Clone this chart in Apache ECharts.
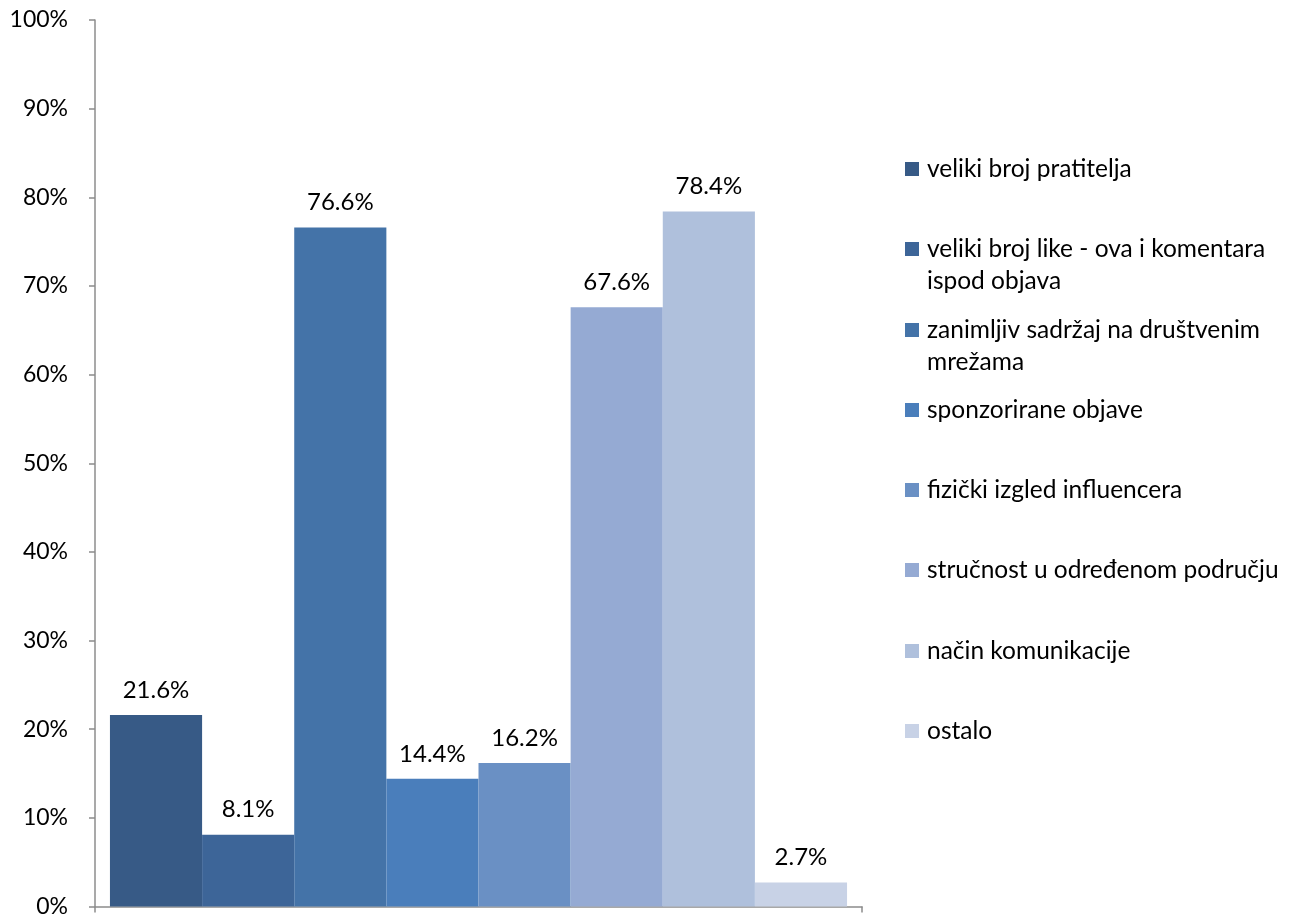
<!DOCTYPE html>
<html>
<head>
<meta charset="utf-8">
<script src="https://cdn.jsdelivr.net/npm/echarts@6/dist/echarts.min.js"></script>
<style>html,body{margin:0;padding:0;background:#fff;}#c{width:1302px;height:918px;}</style>
</head>
<body>
<div id="c"></div>
<script>
const categories = [''];
const seriesNames = [
  'veliki broj pratitelja',
  'veliki broj like - ova i komentara ispod objava',
  'zanimljiv sadržaj na društvenim mrežama',
  'sponzorirane objave',
  'fizički izgled influencera',
  'stručnost u određenom području',
  'način komunikacije',
  'ostalo'
];
const legendLines = [
  ['veliki broj pratitelja'],
  ['veliki broj like - ova i komentara', 'ispod objava'],
  ['zanimljiv sadržaj na društvenim', 'mrežama'],
  ['sponzorirane objave'],
  ['fizički izgled influencera'],
  ['stručnost u određenom području'],
  ['način komunikacije'],
  ['ostalo']
];
const values = [21.6, 8.1, 76.6, 14.4, 16.2, 67.6, 78.4, 2.7];
const colors = ['#375A86', '#3D6598', '#4473A8', '#4A7EBB', '#6A90C4', '#95AAD3', '#AFC0DC', '#C8D2E6'];
const yTicks = [0, 10, 20, 30, 40, 50, 60, 70, 80, 90, 100];

const FONT = 'Lato';
const legendCenters = [169, 249, 330, 410, 490, 570, 651, 731];

const chart = echarts.init(document.getElementById('c'));
const legends = seriesNames.map((n, i) => {
  const lines = legendLines[i];
  const multi = lines.length > 1;
  return {
    orient: 'vertical',
    left: 905,
    top: legendCenters[i] - (multi ? 48 : 16),
    data: [n],
    icon: 'rect',
    itemWidth: 14,
    itemHeight: 14,
    selectedMode: false,
    padding: 0,
    formatter: () => multi ? '\n' + lines[0] + '\n' + lines[1] : lines[0],
    textStyle: { fontFamily: FONT, fontSize: 24.5, color: '#000', lineHeight: 32, padding: [0, 0, 0, 3] }
  };
});

chart.setOption({
  animation: false,
  backgroundColor: '#fff',
  color: colors,
  legend: legends,
  grid: { left: 95, right: 440, top: 20, bottom: 11, containLabel: false },
  xAxis: {
    type: 'category',
    data: categories,
    axisLine: { lineStyle: { color: '#8c8c8c', width: 1.5 } },
    axisTick: { show: true, length: 6, lineStyle: { color: '#8c8c8c', width: 1.5 } },
    axisLabel: { show: false },
    splitLine: { show: false }
  },
  yAxis: {
    type: 'value',
    min: yTicks[0],
    max: yTicks[yTicks.length - 1],
    interval: 10,
    axisLine: { show: true, lineStyle: { color: '#8c8c8c', width: 1.5 } },
    axisTick: { show: true, length: 6, lineStyle: { color: '#8c8c8c', width: 1.5 } },
    splitLine: { show: false },
    axisLabel: { formatter: v => v + '%', fontFamily: FONT, fontSize: 23, color: '#000', margin: 27 }
  },
  series: seriesNames.map((n, i) => ({
    name: n,
    type: 'bar',
    data: [values[i]],
    barGap: '0%',
    barCategoryGap: '3.9%',
    itemStyle: { color: colors[i] },
    label: {
      show: true,
      position: 'top',
      distance: 13,
      formatter: p => p.value.toFixed(1) + '%',
      fontFamily: FONT,
      fontSize: 24,
      color: '#000'
    }
  }))
});
</script>
</body>
</html>
